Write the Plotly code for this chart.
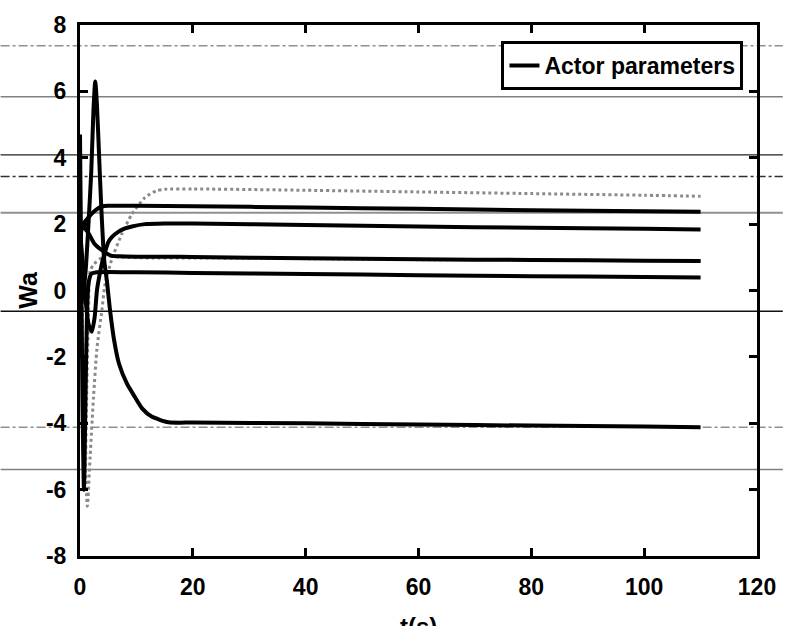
import plotly.graph_objects as go

# ---- data ----
t_g1 = [0, 0.4, 0.8, 1.3, 1.8, 2.4, 3.0, 3.9, 4.4, 5.6, 7.4, 9.2, 11.5, 13.5, 15, 20, 40, 60, 80, 100, 110]
v_g1 = [3.3, -1.0, -4.5, -6.5, -5.0, -3.2, -1.75, -0.56, 0.15, 0.92, 1.7, 2.3, 2.8, 3.0, 3.05, 3.06, 3.02, 2.97, 2.92, 2.87, 2.84]

t_g2 = [0, 0.3, 0.6, 0.9, 1.2, 1.5, 1.8, 2.5, 3.5, 4.5, 6, 8, 12, 20, 40, 60, 80, 100, 110]
v_g2 = [4.0, 0.5, -3.5, -5.8, -3.0, -0.8, 0.6, 0.8, 0.95, 1.05, 1.02, 1.0, 0.98, 0.98, 0.96, 0.93, 0.92, 0.9, 0.89]

t_a = [0, 0.5, 1.0, 1.5, 2.0, 2.4, 2.7, 3.0, 3.4, 3.8, 4.3, 4.8, 5.3, 6.0, 6.9, 8.3, 9.7, 11, 12.7, 15.7, 20, 40, 60, 80, 100, 110]
v_a = [-0.5, -0.2, 0.6, 2.0, 3.6, 5.5, 6.3, 5.6, 4.0, 2.4, 0.9, 0.24, -0.56, -1.45, -2.2, -2.8, -3.2, -3.55, -3.8, -3.97, -3.98, -4.0, -4.04, -4.07, -4.1, -4.12]

t_b = [0, 0.5, 1.0, 1.5, 2.1, 2.6, 3.0, 3.5, 4.0, 4.5, 5.0, 5.6, 6.9, 8, 9.2, 11.5, 15, 20, 40, 60, 80, 100, 110]
v_b = [1.8, 0.8, -0.3, -1.0, -1.24, -0.8, 0.0, 0.5, 0.9, 1.2, 1.45, 1.6, 1.78, 1.87, 1.93, 2.0, 2.02, 2.02, 1.97, 1.93, 1.89, 1.86, 1.84]

t_c = [0, 0.5, 1.0, 1.6, 2.6, 4.0, 5.5, 7, 10, 15, 20, 40, 60, 80, 100, 110]
v_c = [1.5, 2.0, 1.85, 1.7, 1.4, 1.2, 1.05, 1.03, 1.02, 1.02, 1.01, 0.97, 0.94, 0.92, 0.9, 0.89]

t_d = [0, 0.2, 0.45, 0.7, 0.95, 1.2, 1.5, 2, 3, 5, 10, 20, 40, 60, 80, 100, 110]
v_d = [4.7, 1.0, -3.5, -6.0, -3.5, -1.0, 0.2, 0.5, 0.55, 0.56, 0.55, 0.53, 0.5, 0.46, 0.43, 0.41, 0.39]

t_e = [0, 0.5, 1.0, 2.0, 3.0, 3.9, 5, 10, 20, 40, 60, 80, 100, 110]
v_e = [1.9, 2.0, 2.1, 2.3, 2.45, 2.53, 2.55, 2.55, 2.54, 2.5, 2.46, 2.42, 2.39, 2.37]

x_ticks = [0, 20, 40, 60, 80, 100, 120]
x_labels = ["0", "20", "40", "60", "80", "100", "120"]
y_ticks = [-8, -6, -4, -2, 0, 2, 4, 6, 8]
y_labels = ["-8", "-6", "-4", "-2", "0", "2", "4", "6", "8"]

legend_name = "Actor parameters"

FONT = "Liberation Sans, Arial, sans-serif"

fig = go.Figure()

for tt, vv in [(t_g1, v_g1), (t_g2, v_g2)]:
    fig.add_trace(go.Scatter(x=tt, y=vv, mode="lines", showlegend=False,
                             line=dict(color="#8a8a8a", width=3, dash="dot",
                                       shape="spline", smoothing=0.6)))

black_series = [(t_a, v_a), (t_b, v_b), (t_c, v_c), (t_d, v_d), (t_e, v_e)]
for i, (tt, vv) in enumerate(black_series):
    fig.add_trace(go.Scatter(x=tt, y=vv, mode="lines", name=legend_name,
                             showlegend=(i == 0),
                             line=dict(color="black", width=4,
                                       shape="spline", smoothing=0.6)))

# scan-artifact horizontal rules running across the whole page (pixel rows)
L, R, T, B = 80, 762, 16, 556
W, H = R - L, B - T
rules = [(37, "#909090", 1.5, "dashdot"), (89, "#808080", 1.5, "solid"),
         (148, "#202020", 1.2, "solid"), (170, "#303030", 1.5, "dashdot"),
         (207, "#909090", 2, "solid"), (307, "#101010", 1.5, "solid"),
         (425, "#909090", 1.5, "dashdot"), (468, "#808080", 1.5, "solid")]
shapes = []
for py, col, w, dash in rules:
    yy = (B - py) / H
    shapes.append(dict(type="line", xref="paper", yref="paper",
                       x0=-L / W, x1=1 + (788 - R) / W, y0=yy, y1=yy,
                       line=dict(color=col, width=w, dash=dash), layer="below"))

axis_common = dict(showline=True, linecolor="black", linewidth=3, mirror="ticks",
                   ticks="inside", ticklen=8, tickwidth=3, tickcolor="black",
                   showgrid=False, zeroline=False,
                   tickfont=dict(family=FONT, size=23, color="black", weight="bold"))

fig.update_layout(
    width=788, height=626,
    margin=dict(l=L, r=788 - R, t=T, b=626 - B),
    paper_bgcolor="white", plot_bgcolor="rgba(0,0,0,0)",
    shapes=shapes,
    xaxis=dict(range=[0, 120], tickvals=x_ticks, ticktext=x_labels,
               ticklabelstandoff=8, **axis_common),
    yaxis=dict(range=[-8, 8], tickvals=y_ticks, ticktext=y_labels,
               ticklabelstandoff=6,
               title=dict(text="Wa", font=dict(family=FONT, size=25, color="black", weight="bold"),
                          standoff=2),
               **axis_common),
    legend=dict(x=0.98, y=0.97, xanchor="right", yanchor="top",
                bgcolor="white", bordercolor="black", borderwidth=3,
                font=dict(family=FONT, size=23, color="black", weight="bold")),
    annotations=[dict(text="t(s)", xref="paper", yref="paper", x=0.5, y=(B - 612) / H,
                      xanchor="center", yanchor="top", showarrow=False,
                      font=dict(family=FONT, size=24, color="black", weight="bold"))],
)

fig.write_html("out.html")
